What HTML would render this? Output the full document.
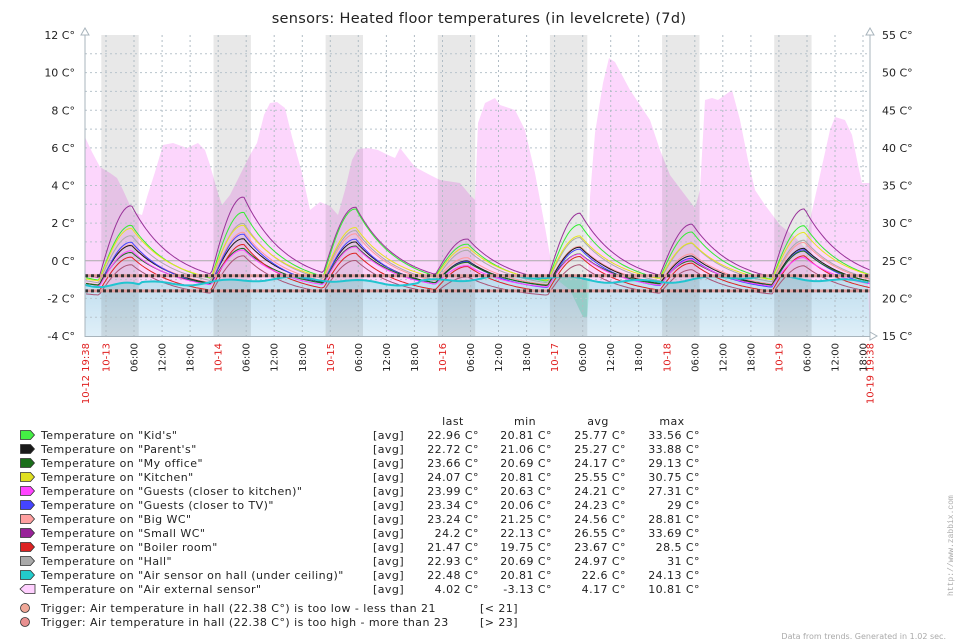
<!DOCTYPE html>
<html><head><meta charset="utf-8">
<style>
html,body{margin:0;padding:0;background:#fff;}
svg{display:block;font-family:"DejaVu Sans","Liberation Sans",sans-serif;}
</style></head>
<body>
<svg id="g" width="956" height="644" viewBox="0 0 956 644" xmlns="http://www.w3.org/2000/svg">
<rect width="956" height="644" fill="#fff"/>
<text x="479" y="23" font-size="14.5" text-anchor="middle" fill="#222" letter-spacing="0.3">sensors: Heated floor temperatures (in levelcrete) (7d)</text>
<g id="plot"></g>
<g id="legend" font-size="11" fill="#222" letter-spacing="0.45"></g>
<text transform="translate(953,596) rotate(-90)" font-size="8" fill="#aaa" font-family="Liberation Mono,monospace">http://www.zabbix.com</text>
<text x="946" y="639" font-size="8" fill="#aaa" text-anchor="end">Data from trends. Generated in 1.02 sec.</text>
</svg>
<script>
(function(){
var P=document.getElementById('plot'),s='';
var X0=85.6,HX=4.673,L=85,R=870,T=35,B=336;
function YR(c){return B-(c-15)*7.525;}
// pink area
var pk=[[85,137],[92,152],[100,167],[110,173],[117,178],[123,190],[133,212],[142,215],[147,197],[155,172],[163,145],[173,143],[187,148],[198,143],[205,150],[210,165],[217,190],[222,205],[230,195],[240,175],[250,155],[257,143],[264,115],[270,103],[277,102],[285,108],[292,137],[302,173],[310,210],[320,202],[330,206],[338,215],[345,190],[352,160],[358,149],[368,148],[378,150],[388,155],[395,158],[400,148],[415,167],[430,175],[440,180],[460,183],[470,195],[475,200],[478,123],[485,103],[495,98],[500,105],[515,110],[525,130],[535,173],[545,227],[552,267],[560,280],[572,300],[583,317],[587,318],[590,197],[595,133],[603,83],[609,58],[615,62],[622,75],[630,90],[640,105],[650,120],[660,150],[670,175],[685,195],[695,208],[700,190],[705,100],[712,98],[718,100],[725,95],[732,90],[740,120],[748,160],[755,190],[765,205],[780,225],[795,237],[805,248],[810,220],[820,175],[830,130],[835,117],[845,120],[852,135],[858,165],[862,183],[870,183]];
var d='M85,336';pk.forEach(function(p){d+=' L'+p[0]+','+p[1];});d+=' L870,336Z';
s+='<path d="'+d+'" fill="#fcd6fc"/>';
// cyan air sensor
var cy=[];for(var x=85;x<=870;x+=3){var v=22.3+0.35*Math.sin(x/37)+0.25*Math.sin(x/11)+(x>420?0.25:0);if(x<140)v=21.8+0.3*Math.sin(x/9);cy.push([x,YR(v)]);}
s+='<defs><linearGradient id="bg" x1="0" y1="0" x2="0" y2="1"><stop offset="0" stop-color="#bcdcee"/><stop offset="1" stop-color="#dfeff8"/></linearGradient></defs>';
d='M85,336';cy.forEach(function(p){d+=' L'+p[0]+','+p[1].toFixed(1);});d+=' L870,336Z';
s+='<path d="'+d+'" fill="url(#bg)"/>';
s+='<path d="M555,278 L570,290 L583,317 L587,318 L590,278Z" fill="#a4e2dc"/>';
// night bands
for(var k=0;k<7;k++){var m=X0+(4.367+24*k)*HX;s+='<rect x="'+(m-4.7).toFixed(1)+'" y="'+T+'" width="37.4" height="'+(B-T)+'" fill="#000" fill-opacity="0.09"/>';}
// grid
for(var i=1;i<16;i++){var y=B-i*18.8125;if(i==4)continue;s+='<line x1="'+L+'" x2="'+R+'" y1="'+y.toFixed(1)+'" y2="'+y.toFixed(1)+'" stroke="#b8c4cc" stroke-dasharray="2,3"/>';}
s+='<line x1="'+L+'" x2="'+R+'" y1="260.8" y2="260.8" stroke="#aaa"/>';
for(var h=0;h<29;h++){var x=X0+(4.367+6*h)*HX;if(x>R)break;s+='<line x1="'+x.toFixed(1)+'" x2="'+x.toFixed(1)+'" y1="'+T+'" y2="'+B+'" stroke="#b0bcc4" stroke-dasharray="2,3"/>';}
// room series
var dayP=[7,9.5,11,10.3,6,9.5,7.2,9];
var ser=[["#993399",1.0,21.6],["#33ee33",0.88,21.4],["#aaaaaa",0.72,21.3],["#e6e620",0.72,21.6],["#ff9999",0.62,21.2],["#1a1a1a",0.62,21.1],["#4444ff",0.62,20.8],["#1a6e1a",0.5,21.2],["#dd2222",0.55,20.3],["#ff44ff",0.5,21.0],["#aa5577",0.45,20.0]];
ser.forEach(function(se,si){var dd='';for(var x=86;x<=870;x+=2){var h=(x-X0)/HX,v=se[2];for(var k=-1;k<7;k++){var t=h-(4.367+24*k),p=dayP[k+1]*se[1]*(1+0.08*Math.sin((k+2)*(si+1)));if(t<-1.5)continue;if(t<5.5){v+=p*Math.sin((t+1.5)/7*Math.PI/2);}else v+=p*Math.exp(-(t-5.5)/9);}
dd+=(dd?' L':'M')+x+','+YR(v).toFixed(1);}
s+='<path d="'+dd+'" fill="none" stroke="'+se[0]+'" stroke-width="1"/>';});
d='';cy.forEach(function(p){d+=(d?' L':'M')+p[0]+','+p[1].toFixed(1);});
s+='<path d="'+d+'" fill="none" stroke="#22c4d0" stroke-width="2"/>';
// triggers
[275.8,290.9].forEach(function(y){s+='<line x1="'+L+'" x2="'+R+'" y1="'+y+'" y2="'+y+'" stroke="#e09a9a" stroke-width="3"/><line x1="'+L+'" x2="'+R+'" y1="'+y+'" y2="'+y+'" stroke="#333" stroke-width="3" stroke-dasharray="3,3"/>';});
// axes
s+='<line x1="85" y1="30" x2="85" y2="337" stroke="#a8b4bc"/><line x1="870" y1="30" x2="870" y2="337" stroke="#a8b4bc"/><line x1="85" y1="336.5" x2="876" y2="336.5" stroke="#a8b4bc"/>';
s+='<path d="M81,35 L85,28 L89,35Z M866,35 L870,28 L874,35Z M870,332 L877,336 L870,340Z" fill="#fff" stroke="#a8b4bc"/>';
for(var i=0;i<=8;i++){var y=B-i*37.625+4;s+='<text x="75" y="'+y.toFixed(1)+'" font-size="11" text-anchor="end" fill="#222">'+(-4+2*i)+' C°</text>';s+='<text x="882" y="'+y.toFixed(1)+'" font-size="11" fill="#222">'+(15+5*i)+' C°</text>';}
function xl(x,t,c){s+='<text transform="translate('+(x+3.5).toFixed(1)+',343) rotate(-90)" font-size="10" text-anchor="end" fill="'+c+'">'+t+'</text>';}
xl(85.6,'10-12 19:38','#e02020');
var days=['10-13','10-14','10-15','10-16','10-17','10-18','10-19'];
for(var k=0;k<7;k++){var m=X0+(4.367+24*k)*HX;xl(m,days[k],'#e02020');['06:00','12:00','18:00'].forEach(function(t,j){xl(m+(j+1)*6*HX,t,'#222');});}
xl(870,'10-19 19:38','#e02020');
P.innerHTML=s;
// legend
var Lg=document.getElementById('legend'),g='';
g+='<text x="453" y="425" text-anchor="middle">last</text><text x="525" y="425" text-anchor="middle">min</text><text x="598" y="425" text-anchor="middle">avg</text><text x="672" y="425" text-anchor="middle">max</text>';
var rows=[["#44ee44",'Kid\'s',"22.96","20.81","25.77","33.56"],["#1a1a1a",'Parent\'s',"22.72","21.06","25.27","33.88"],["#1a6e1a",'My office',"23.66","20.69","24.17","29.13"],["#e0e020",'Kitchen',"24.07","20.81","25.55","30.75"],["#ff44ff",'Guests (closer to kitchen)',"23.99","20.63","24.21","27.31"],["#4444ff",'Guests (closer to TV)',"23.34","20.06","24.23","29"],["#ffa0a0",'Big WC',"23.24","21.25","24.56","28.81"],["#992299",'Small WC',"24.2","22.13","26.55","33.69"],["#dd2222",'Boiler room',"21.47","19.75","23.67","28.5"],["#aaaaaa",'Hall',"22.93","20.69","24.97","31"],["#22cccc",'Air sensor on hall (under ceiling)',"22.48","20.81","22.6","24.13"],["#ffd0ff",'Air external sensor',"4.02","-3.13","4.17","10.81"]];
rows.forEach(function(r,i){var y=435+i*14;
if(i<11)g+='<path d="M20.5,'+(y-4.5)+' h10 l4,4.5 l-4,4.5 h-10Z" fill="'+r[0]+'" stroke="#333" stroke-width="0.8"/>';
else g+='<path d="M35,'+(y-4.5)+' h-10 l-5,4.5 l5,4.5 h10Z" fill="'+r[0]+'" stroke="#333" stroke-width="0.8"/>';
g+='<text x="41" y="'+(y+4)+'">Temperature on "'+r[1]+'"</text><text x="373" y="'+(y+4)+'">[avg]</text>';
[[r[2],479],[r[3],552],[r[4],626],[r[5],700]].forEach(function(c){g+='<text x="'+c[1]+'" y="'+(y+4)+'" text-anchor="end">'+c[0]+' C°</text>';});});
g+='<circle cx="25" cy="608" r="4.5" fill="#f0a898" stroke="#333" stroke-width="0.8"/><text x="41" y="612">Trigger: Air temperature in hall (22.38 C°) is too low - less than 21</text><text x="480" y="612">[&lt; 21]</text>';
g+='<circle cx="25" cy="622" r="4.5" fill="#e89090" stroke="#333" stroke-width="0.8"/><text x="41" y="626">Trigger: Air temperature in hall (22.38 C°) is too high - more than 23</text><text x="480" y="626">[&gt; 23]</text>';
Lg.innerHTML=g;
})();
</script>
</body></html>
